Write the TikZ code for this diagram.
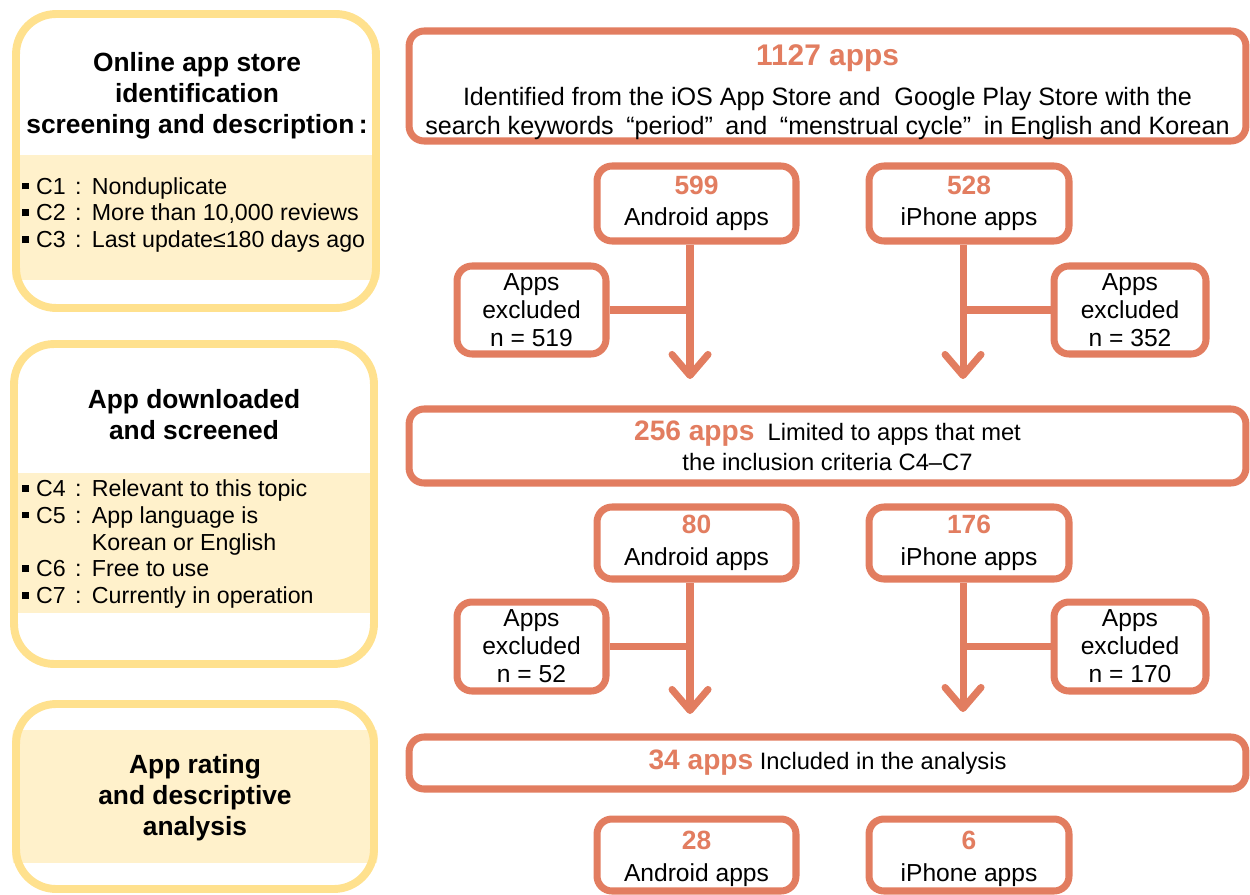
\documentclass[tikz,border=0pt]{standalone}
\usepackage{fontspec}
\setmainfont{Liberation Sans}
\usepackage{tikz}
\usetikzlibrary{arrows.meta,backgrounds,positioning}
\definecolor{flowor}{HTML}{E27D60}
\definecolor{phaseyel}{HTML}{FFE18E}
\definecolor{bandyel}{HTML}{FFF1CB}
\tikzstyle{block} = [rectangle, draw=flowor, line width=4pt, rounded corners=0.3cm,
                     fill=white, align=center, inner sep=0pt]
\tikzstyle{phase} = [rectangle, draw=phaseyel, line width=4.5pt, rounded corners=0.8cm,
                     inner sep=0pt]
\tikzstyle{flowline} = [draw=flowor, line width=4pt,
                        -{Straight Barb[length=0.42cm,width=0.72cm,line cap=round,line join=round]}]
\tikzstyle{branch} = [draw=flowor, line width=4pt]
\tikzstyle{band} = [fill=bandyel]
\newcommand{\fsz}[2]{\fontsize{#1}{#2}\selectfont}
\newcommand{\cnt}[1]{\textcolor{flowor}{\bfseries #1}}
\newcommand{\bul}{\rule[0.2em]{0.3em}{0.3em}\hspace{0.3em}}
\newcommand{\crit}[2]{\bul #1\hspace{0.4em}:\hspace{0.45em}#2}

\begin{document}
\begin{tikzpicture}[x=0.02cm, y=-0.02cm]
\useasboundingbox (0,0) rectangle (1250,895);

% left column: phases
\node [phase, minimum width=7.2cm, minimum height=5.88cm] (phase1) at (196,161) {};
\node [phase, minimum width=7.2cm, minimum height=6.4cm] (phase2) at (194,504) {};
\node [phase, minimum width=7.16cm, minimum height=3.7cm] (phase3) at (195,796.5) {};

\begin{scope}[on background layer]
\begin{scope}
\clip[rounded corners=0.8cm] (phase1.south west) rectangle (phase1.north east);
\fill[band] (0,155) rectangle (400,280);
\end{scope}
\begin{scope}
\clip[rounded corners=0.8cm] (phase2.south west) rectangle (phase2.north east);
\fill[band] (0,473) rectangle (400,613);
\end{scope}
\begin{scope}
\clip[rounded corners=0.8cm] (phase3.south west) rectangle (phase3.north east);
\fill[band] (0,730) rectangle (400,863);
\end{scope}
\end{scope}

\node [align=center, font=\bfseries\fsz{15}{17.6}] (title1) at (197,96)
  {Online app store\\identification\\screening and description\,:};
\node [align=left, anchor=west, font=\fsz{13.2}{15.3}] (list1) at (16,215)
  {\crit{C1}{Nonduplicate}\\\crit{C2}{More than 10,000 reviews}\\\crit{C3}{Last update≤180 days ago}};

\node [align=center, font=\bfseries\fsz{15}{17.6}] (title2) at (194,415)
  {App downloaded\\and screened};
\node [align=left, anchor=west, font=\fsz{13.2}{15.3}] (list2) at (16,544)
  {\crit{C4}{Relevant to this topic}\\\crit{C5}{App language is}\\
   \hphantom{\bul C5\hspace{0.4em}:\hspace{0.45em}}Korean or English\\
   \crit{C6}{Free to use}\\\crit{C7}{Currently in operation}};

\node [align=center, font=\bfseries\fsz{15}{17.6}] (title3) at (195,798)
  {App rating\\and descriptive\\analysis};

% right column: flow
\node [block, minimum width=16.74cm, minimum height=2.2cm, font=\fsz{14.3}{16.4}] (store) at (827.5,86)
  {\rule{0pt}{19pt}{\fsz{17}{20}\cnt{1127 apps}}\\[6pt]
   Identified from the iOS App Store and\ \ Google Play Store with the\\
   search keywords\hspace{0.5em}“period”\hspace{0.5em}and\hspace{0.5em}“menstrual cycle”\hspace{0.5em}in English and Korean};
\node [block, minimum width=3.98cm, minimum height=1.5cm, font=\fsz{14}{18}] (andr1) at (696.5,203.5)
  {{\fsz{15}{18}\cnt{599}}\\Android apps};
\node [block, minimum width=4cm, minimum height=1.5cm, font=\fsz{14}{18}] (ios1) at (969,203.5)
  {{\fsz{15}{18}\cnt{528}}\\iPhone apps};
\node [block, minimum width=2.98cm, minimum height=1.76cm, font=\fsz{14}{15.9}] (exa1) at (531.5,310)
  {Apps\\excluded\\n = 519};
\node [block, minimum width=3.04cm, minimum height=1.76cm, font=\fsz{14}{15.9}] (exi1) at (1130,310)
  {Apps\\excluded\\n = 352};

\node [block, minimum width=16.74cm, minimum height=1.48cm, font=\fsz{13.5}{17}] (crit) at (827.5,446)
  {{\fsz{16}{17}\cnt{256 apps}}\ \ Limited to apps that met\\the inclusion criteria C4–C7};
\node [block, minimum width=3.98cm, minimum height=1.44cm, font=\fsz{14}{18}] (andr2) at (696.5,543)
  {{\fsz{15}{18}\cnt{80}}\\Android apps};
\node [block, minimum width=4cm, minimum height=1.44cm, font=\fsz{14}{18}] (ios2) at (969,543)
  {{\fsz{15}{18}\cnt{176}}\\iPhone apps};
\node [block, minimum width=2.98cm, minimum height=1.78cm, font=\fsz{14}{15.9}] (exa2) at (531.5,646.5)
  {Apps\\excluded\\n = 52};
\node [block, minimum width=3.04cm, minimum height=1.78cm, font=\fsz{14}{15.9}] (exi2) at (1130,646.5)
  {Apps\\excluded\\n = 170};

\node [block, minimum width=16.74cm, minimum height=1.04cm, font=\fsz{13.5}{17}] (final) at (827.5,763)
  {{\fsz{16}{17}\cnt{34 apps}} Included in the analysis};
\node [block, minimum width=3.98cm, minimum height=1.44cm, font=\fsz{14}{18}] (andr3) at (696.5,855)
  {\rule{0pt}{15pt}{\fsz{15}{18}\cnt{28}}\\Android apps};
\node [block, minimum width=4cm, minimum height=1.44cm, font=\fsz{14}{18}] (ios3) at (969,855)
  {\rule{0pt}{15pt}{\fsz{15}{18}\cnt{6}}\\iPhone apps};

% arrows with exclusion branches
\coordinate (tipa1) at (690,379);
\coordinate (tipi1) at (963,379);
\coordinate (tipa2) at (690,714);
\coordinate (tipi2) at (963,712);

\path [flowline] (andr1.south -| tipa1) -- (tipa1);
\path [branch] (exa1.east) -- (exa1.east -| tipa1);
\path [flowline] (ios1.south -| tipi1) -- (tipi1);
\path [branch] (exi1.west) -- (exi1.west -| tipi1);

\path [flowline] (andr2.south -| tipa2) -- (tipa2);
\path [branch] (exa2.east) -- (exa2.east -| tipa2);
\path [flowline] (ios2.south -| tipi2) -- (tipi2);
\path [branch] (exi2.west) -- (exi2.west -| tipi2);

\end{tikzpicture}
\end{document}
